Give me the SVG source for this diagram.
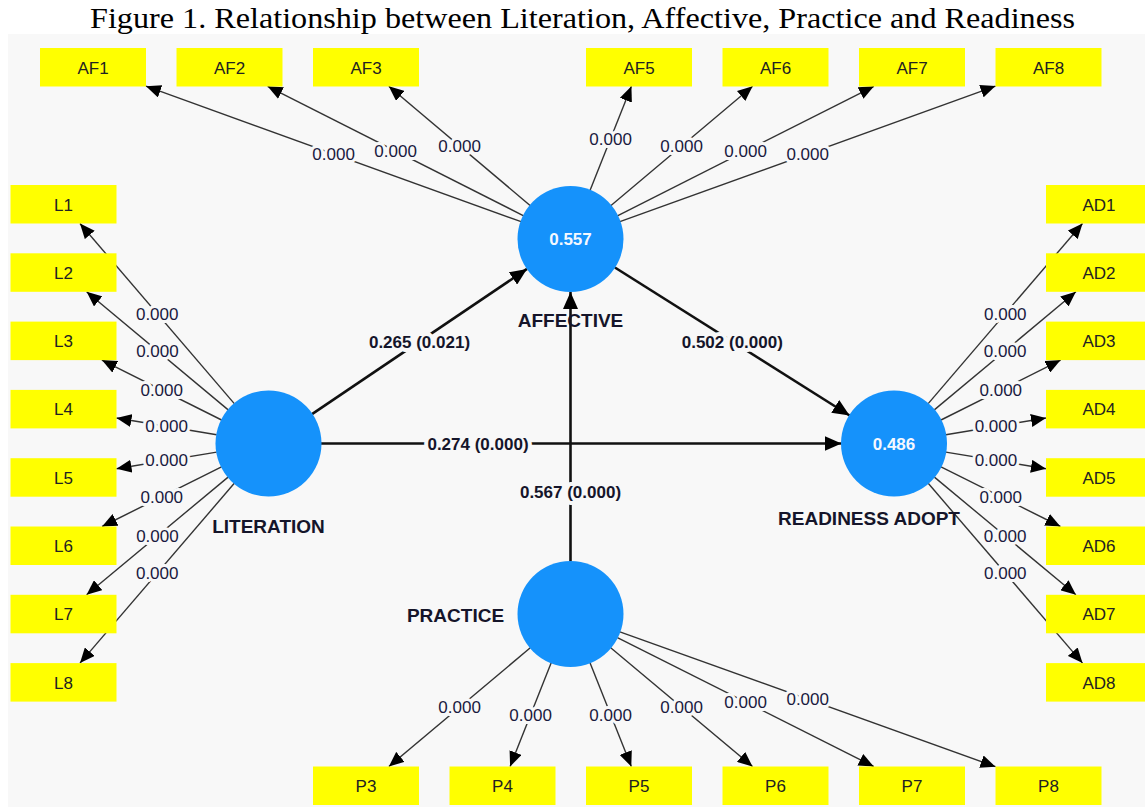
<svg xmlns="http://www.w3.org/2000/svg" width="1145" height="807" viewBox="0 0 1145 807">
<style>
.title{font-family:"Liberation Serif","Times New Roman",serif;font-size:30px;fill:#000}
.box rect{fill:#ffff00}
.box text{font-family:"Liberation Sans",Arial,sans-serif;font-size:17px;fill:#222;text-anchor:middle}
.lv circle{fill:#1592fb}
.lv .val{font-family:"Liberation Sans",Arial,sans-serif;font-size:17px;font-weight:bold;fill:#f4f8ff;text-anchor:middle}
.lv .name{font-family:"Liberation Sans",Arial,sans-serif;font-size:19px;font-weight:bold;fill:#15152a;text-anchor:middle}
.ind{stroke:#333;stroke-width:1.4;fill:none;marker-end:url(#ah)}
.path{stroke:#111;stroke-width:2.6;fill:none;marker-end:url(#ahb)}
.il{font-family:"Liberation Sans",Arial,sans-serif;font-size:17px;fill:#1a1a40;text-anchor:middle;stroke:#f8f8f8;stroke-width:6;paint-order:stroke;stroke-linejoin:round}
.pl{font-family:"Liberation Sans",Arial,sans-serif;font-size:17px;font-weight:bold;fill:#15152a;text-anchor:middle;stroke:#f8f8f8;stroke-width:8;paint-order:stroke;stroke-linejoin:round}
</style>
<defs>
<marker id="ah" markerUnits="userSpaceOnUse" markerWidth="16" markerHeight="13" refX="15" refY="6.5" orient="auto"><path d="M0,0 L15,6.5 L0,13 z" fill="#000"/></marker>
<marker id="ahb" markerUnits="userSpaceOnUse" markerWidth="18" markerHeight="15" refX="17" refY="7.5" orient="auto"><path d="M0,0 L17,7.5 L0,15 z" fill="#000"/></marker>
</defs>
<rect x="0" y="0" width="1145" height="807" fill="#fff"/>
<rect x="8" y="34" width="1137" height="773" fill="#f8f8f8"/>
<text class="title" x="90" y="28" textLength="985" lengthAdjust="spacingAndGlyphs">Figure 1. Relationship between Literation, Affective, Practice and Readiness</text>

<g id="connectors">
<line class="ind" x1="234.3" y1="403.6" x2="80.0" y2="223.5"/>
<line class="ind" x1="228.2" y1="409.9" x2="86.6" y2="291.8"/>
<line class="ind" x1="221.6" y1="420.0" x2="101.9" y2="360.1"/>
<line class="ind" x1="216.7" y1="434.8" x2="116.5" y2="418.0"/>
<line class="ind" x1="216.7" y1="452.1" x2="116.5" y2="468.7"/>
<line class="ind" x1="221.5" y1="466.9" x2="102.1" y2="526.5"/>
<line class="ind" x1="228.1" y1="477.1" x2="86.6" y2="594.8"/>
<line class="ind" x1="234.3" y1="483.3" x2="80.0" y2="663.1"/>

<line class="ind" x1="928.2" y1="403.6" x2="1082.5" y2="223.5"/>
<line class="ind" x1="934.3" y1="409.9" x2="1075.9" y2="291.8"/>
<line class="ind" x1="941.0" y1="420.0" x2="1060.6" y2="360.1"/>
<line class="ind" x1="945.8" y1="434.8" x2="1046.0" y2="418.0"/>
<line class="ind" x1="945.8" y1="452.1" x2="1046.0" y2="468.7"/>
<line class="ind" x1="941.0" y1="466.9" x2="1060.4" y2="526.5"/>
<line class="ind" x1="934.4" y1="477.1" x2="1075.9" y2="594.8"/>
<line class="ind" x1="928.2" y1="483.3" x2="1082.5" y2="663.1"/>

<line class="ind" x1="521.1" y1="221.7" x2="146.0" y2="86.2"/>
<line class="ind" x1="523.7" y1="215.8" x2="267.6" y2="86.3"/>
<line class="ind" x1="530.4" y1="205.7" x2="388.8" y2="86.3"/>
<line class="ind" x1="589.9" y1="190.7" x2="631.4" y2="86.3"/>
<line class="ind" x1="610.7" y1="205.7" x2="752.6" y2="86.3"/>
<line class="ind" x1="617.4" y1="215.8" x2="873.9" y2="86.3"/>
<line class="ind" x1="619.9" y1="221.7" x2="995.5" y2="86.1"/>

<line class="ind" x1="530.3" y1="647.8" x2="388.9" y2="766.5"/>
<line class="ind" x1="551.2" y1="662.8" x2="510.1" y2="766.5"/>
<line class="ind" x1="590.0" y1="662.8" x2="631.3" y2="766.5"/>
<line class="ind" x1="610.7" y1="647.7" x2="752.5" y2="766.5"/>
<line class="ind" x1="617.4" y1="637.6" x2="873.7" y2="766.5"/>
<line class="ind" x1="619.9" y1="631.8" x2="995.5" y2="766.7"/>

<line class="path" x1="312.0" y1="414.1" x2="527.0" y2="268.9"/>
<line class="path" x1="614.9" y1="267.5" x2="849.6" y2="415.5"/>
<line class="path" x1="321.0" y1="443.5" x2="841.5" y2="443.5"/>
<line class="path" x1="570.5" y1="561.5" x2="570.5" y2="292.0"/>

<text class="il" x="157.2" y="319.6">0.000</text>
<text class="il" x="157.4" y="356.8">0.000</text>
<text class="il" x="161.7" y="396.1">0.000</text>
<text class="il" x="166.6" y="432.4">0.000</text>
<text class="il" x="166.6" y="466.4">0.000</text>
<text class="il" x="161.8" y="502.7">0.000</text>
<text class="il" x="157.4" y="541.9">0.000</text>
<text class="il" x="157.2" y="579.2">0.000</text>

<text class="il" x="1005.3" y="319.6">0.000</text>
<text class="il" x="1005.1" y="356.8">0.000</text>
<text class="il" x="1000.8" y="396.1">0.000</text>
<text class="il" x="995.9" y="432.4">0.000</text>
<text class="il" x="995.9" y="466.4">0.000</text>
<text class="il" x="1000.7" y="502.7">0.000</text>
<text class="il" x="1005.1" y="541.9">0.000</text>
<text class="il" x="1005.3" y="579.2">0.000</text>

<text class="il" x="333.6" y="159.9">0.000</text>
<text class="il" x="395.6" y="157.0">0.000</text>
<text class="il" x="459.6" y="152.0">0.000</text>
<text class="il" x="610.6" y="144.5">0.000</text>
<text class="il" x="681.6" y="152.0">0.000</text>
<text class="il" x="745.6" y="157.0">0.000</text>
<text class="il" x="807.7" y="159.9">0.000</text>

<text class="il" x="459.6" y="713.1">0.000</text>
<text class="il" x="530.6" y="720.7">0.000</text>
<text class="il" x="610.6" y="720.6">0.000</text>
<text class="il" x="681.6" y="713.1">0.000</text>
<text class="il" x="745.6" y="708.0">0.000</text>
<text class="il" x="807.7" y="705.2">0.000</text>

<text class="pl" x="419.5" y="347.5">0.265 (0.021)</text>
<text class="pl" x="732.3" y="347.5">0.502 (0.000)</text>
<text class="pl" x="478.0" y="450.0">0.274 (0.000)</text>
<text class="pl" x="570.5" y="498.0">0.567 (0.000)</text>
</g>

<g id="AFFECTIVE" class="lv"><circle cx="570.5" cy="239" r="53"/><text class="val" x="570.5" y="245">0.557</text><text class="name" x="570.5" y="327">AFFECTIVE</text></g>
<g id="LITERATION" class="lv"><circle cx="268.5" cy="443.5" r="53"/><text class="name" x="268.5" y="533">LITERATION</text></g>
<g id="READINESS_ADOPT" class="lv"><circle cx="894" cy="443.5" r="53"/><text class="val" x="894" y="449.5">0.486</text><text class="name" x="869" y="525">READINESS ADOPT</text></g>
<g id="PRACTICE" class="lv"><circle cx="570.5" cy="614" r="53"/><text class="name" x="455.5" y="622">PRACTICE</text></g>

<g id="AF1" class="box"><rect x="40" y="48" width="106" height="38.5"/><text x="93" y="73.5">AF1</text></g>
<g id="AF2" class="box"><rect x="176.5" y="48" width="106" height="38.5"/><text x="229.5" y="73.5">AF2</text></g>
<g id="AF3" class="box"><rect x="313" y="48" width="106" height="38.5"/><text x="366" y="73.5">AF3</text></g>
<g id="AF5" class="box"><rect x="586" y="48" width="106" height="38.5"/><text x="639" y="73.5">AF5</text></g>
<g id="AF6" class="box"><rect x="722.5" y="48" width="106" height="38.5"/><text x="775.5" y="73.5">AF6</text></g>
<g id="AF7" class="box"><rect x="859" y="48" width="106" height="38.5"/><text x="912" y="73.5">AF7</text></g>
<g id="AF8" class="box"><rect x="995.5" y="48" width="106" height="38.5"/><text x="1048.5" y="73.5">AF8</text></g>

<g id="L1" class="box"><rect x="10.5" y="185" width="106" height="38.5"/><text x="63.5" y="210.5">L1</text></g>
<g id="L2" class="box"><rect x="10.5" y="253.3" width="106" height="38.5"/><text x="63.5" y="278.8">L2</text></g>
<g id="L3" class="box"><rect x="10.5" y="321.6" width="106" height="38.5"/><text x="63.5" y="347.1">L3</text></g>
<g id="L4" class="box"><rect x="10.5" y="389.9" width="106" height="38.5"/><text x="63.5" y="415.4">L4</text></g>
<g id="L5" class="box"><rect x="10.5" y="458.2" width="106" height="38.5"/><text x="63.5" y="483.7">L5</text></g>
<g id="L6" class="box"><rect x="10.5" y="526.5" width="106" height="38.5"/><text x="63.5" y="552">L6</text></g>
<g id="L7" class="box"><rect x="10.5" y="594.8" width="106" height="38.5"/><text x="63.5" y="620.3">L7</text></g>
<g id="L8" class="box"><rect x="10.5" y="663.1" width="106" height="38.5"/><text x="63.5" y="688.6">L8</text></g>

<g id="AD1" class="box"><rect x="1046" y="185" width="106" height="38.5"/><text x="1099" y="210.5">AD1</text></g>
<g id="AD2" class="box"><rect x="1046" y="253.3" width="106" height="38.5"/><text x="1099" y="278.8">AD2</text></g>
<g id="AD3" class="box"><rect x="1046" y="321.6" width="106" height="38.5"/><text x="1099" y="347.1">AD3</text></g>
<g id="AD4" class="box"><rect x="1046" y="389.9" width="106" height="38.5"/><text x="1099" y="415.4">AD4</text></g>
<g id="AD5" class="box"><rect x="1046" y="458.2" width="106" height="38.5"/><text x="1099" y="483.7">AD5</text></g>
<g id="AD6" class="box"><rect x="1046" y="526.5" width="106" height="38.5"/><text x="1099" y="552">AD6</text></g>
<g id="AD7" class="box"><rect x="1046" y="594.8" width="106" height="38.5"/><text x="1099" y="620.3">AD7</text></g>
<g id="AD8" class="box"><rect x="1046" y="663.1" width="106" height="38.5"/><text x="1099" y="688.6">AD8</text></g>

<g id="P3" class="box"><rect x="313" y="766.5" width="106" height="38.5"/><text x="366" y="792">P3</text></g>
<g id="P4" class="box"><rect x="449.5" y="766.5" width="106" height="38.5"/><text x="502.5" y="792">P4</text></g>
<g id="P5" class="box"><rect x="586" y="766.5" width="106" height="38.5"/><text x="639" y="792">P5</text></g>
<g id="P6" class="box"><rect x="722.5" y="766.5" width="106" height="38.5"/><text x="775.5" y="792">P6</text></g>
<g id="P7" class="box"><rect x="859" y="766.5" width="106" height="38.5"/><text x="912" y="792">P7</text></g>
<g id="P8" class="box"><rect x="995.5" y="766.5" width="106" height="38.5"/><text x="1048.5" y="792">P8</text></g>
</svg>
